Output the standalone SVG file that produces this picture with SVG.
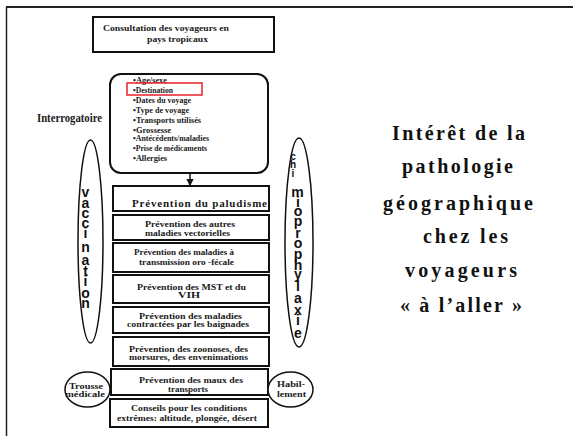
<svg xmlns="http://www.w3.org/2000/svg" width="573" height="436" viewBox="0 0 573 436">
<style>
.box{fill:#fff;stroke:#111;stroke-width:2}
.t{font-family:"Liberation Serif","Times New Roman",serif;font-weight:bold;fill:#1a1a1a}
.s{font-size:8.5px}
.l{font-size:7.6px}
.v{font-family:"Liberation Sans",Arial,sans-serif;font-weight:bold;font-size:14px;text-anchor:middle;fill:#111}
.vs{font-size:10px}
.ttl{font-family:"Liberation Serif","Times New Roman",serif;font-weight:bold;font-size:20px;fill:#111}
</style>
<defs>
<marker id="ah" viewBox="0 0 6 6" refX="5" refY="3" markerWidth="5" markerHeight="5" orient="auto">
<path d="M0,0 L6,3 L0,6 z" fill="#111"/>
</marker>
</defs>
<rect width="573" height="436" fill="#fff"/>
<g id="frame">
<line x1="6" y1="7" x2="573" y2="7" stroke="#222" stroke-width="2"/>
<line x1="6.5" y1="7" x2="6.5" y2="436" stroke="#222" stroke-width="1.5"/>
</g>
<g id="consultation">
<rect class="box" x="93" y="17" width="181" height="35"/>
<text class="t s" x="103" y="31" textLength="126" lengthAdjust="spacingAndGlyphs">Consultation des voyageurs en</text>
<text class="t s" x="147" y="42" textLength="61" lengthAdjust="spacingAndGlyphs">pays tropicaux</text>
</g>
<g id="interrogatoire-label">
<text class="t" font-size="11.5" x="37" y="122" textLength="65" lengthAdjust="spacingAndGlyphs">Interrogatoire</text>
</g>
<g id="interrogatoire">
<rect class="box" x="110" y="74" width="158" height="99" rx="11"/>
<text class="t l" x="133" y="83" textLength="34" lengthAdjust="spacingAndGlyphs">•Age/sexe</text>
<text class="t l" x="133" y="93" textLength="40" lengthAdjust="spacingAndGlyphs">•Destination</text>
<text class="t l" x="133" y="103" textLength="58" lengthAdjust="spacingAndGlyphs">•Dates du voyage</text>
<text class="t l" x="133" y="113" textLength="56" lengthAdjust="spacingAndGlyphs">•Type de voyage</text>
<text class="t l" x="133" y="123" textLength="68" lengthAdjust="spacingAndGlyphs">•Transports utilisés</text>
<text class="t l" x="133" y="133" textLength="38" lengthAdjust="spacingAndGlyphs">•Grossesse</text>
<text class="t l" x="133" y="141" textLength="76" lengthAdjust="spacingAndGlyphs">•Antécédents/maladies</text>
<text class="t l" x="133" y="151" textLength="74" lengthAdjust="spacingAndGlyphs">•Prise de médicaments</text>
<text class="t l" x="133" y="161" textLength="34" lengthAdjust="spacingAndGlyphs">•Allergies</text>
<rect x="127" y="83" width="75" height="12" fill="none" stroke="#e8202a" stroke-width="1.5"/>
</g>
<g id="connectors">
<line x1="190" y1="173" x2="190" y2="185" stroke="#111" stroke-width="1.5" marker-end="url(#ah)"/>
</g>
<g id="vaccination">
<ellipse cx="90.5" cy="241.5" rx="12.5" ry="101.5" fill="none" stroke="#111" stroke-width="1.5"/>
<text class="v" x="85.5" y="197">v</text>
<text class="v" x="85.5" y="208">a</text>
<text class="v" x="85.5" y="218">c</text>
<text class="v" x="85.5" y="228">c</text>
<text class="v" x="85.5" y="238">i</text>
<text class="v" x="85.5" y="252">n</text>
<text class="v" x="85.5" y="265">a</text>
<text class="v" x="85.5" y="276">t</text>
<text class="v" x="85.5" y="286">i</text>
<text class="v" x="85.5" y="298">o</text>
<text class="v" x="85.5" y="308">n</text>
</g>
<g id="chimioprophylaxie">
<ellipse cx="299" cy="242.5" rx="14" ry="104.5" fill="none" stroke="#111" stroke-width="1.5"/>
<text class="v vs" x="293" y="160">c</text>
<text class="v vs" x="293" y="168">h</text>
<text class="v vs" x="293" y="177">i</text>
<text class="v" x="297.5" y="197">m</text>
<text class="v" x="298" y="207">i</text>
<text class="v" x="298" y="216">o</text>
<text class="v" x="298" y="226">p</text>
<text class="v" x="298" y="238">r</text>
<text class="v" x="298" y="248">o</text>
<text class="v" x="298" y="259">p</text>
<text class="v" x="298" y="270">h</text>
<text class="v" x="298" y="279">y</text>
<text class="v" x="298" y="291">l</text>
<text class="v" x="298" y="303">a</text>
<text class="v" x="298" y="315">x</text>
<text class="v" x="298" y="325">i</text>
<text class="v" x="298" y="338">e</text>
</g>
<g id="paludisme">
<rect class="box" x="113" y="186" width="156" height="25"/>
<text class="t" font-size="11" x="132" y="207" textLength="135" lengthAdjust="spacing">Prévention du paludisme</text>
</g>
<g id="vectorielles">
<rect class="box" x="113" y="215" width="156" height="25"/>
<text class="t s" x="145" y="227" textLength="90" lengthAdjust="spacingAndGlyphs">Prévention des autres</text>
<text class="t s" x="145" y="236" textLength="85" lengthAdjust="spacingAndGlyphs">maladies vectorielles</text>
</g>
<g id="orofecale">
<rect class="box" x="113" y="243" width="156" height="29"/>
<text class="t s" x="134" y="255" textLength="100" lengthAdjust="spacingAndGlyphs">Prévention des maladies à</text>
<text class="t s" x="139" y="265" textLength="95" lengthAdjust="spacingAndGlyphs">transmission oro  -fécale</text>
</g>
<g id="mst">
<rect class="box" x="113" y="275" width="156" height="28"/>
<text class="t s" x="137" y="290" textLength="109" lengthAdjust="spacingAndGlyphs">Prévention des MST et du</text>
<text class="t s" x="178" y="298" textLength="22" lengthAdjust="spacingAndGlyphs">VIH</text>
</g>
<g id="baignades">
<rect class="box" x="113" y="307" width="156" height="26"/>
<text class="t s" x="139" y="319" textLength="103" lengthAdjust="spacingAndGlyphs">Prévention des maladies</text>
<text class="t s" x="127" y="327" textLength="122" lengthAdjust="spacingAndGlyphs">contractées par les baignades</text>
</g>
<g id="zoonoses">
<rect class="box" x="113" y="337" width="156" height="29"/>
<text class="t s" x="129" y="352" textLength="119" lengthAdjust="spacingAndGlyphs">Prévention des zoonoses, des</text>
<text class="t s" x="129" y="360" textLength="119" lengthAdjust="spacingAndGlyphs">morsures, des envenimations</text>
</g>
<g id="transports">
<rect class="box" x="111" y="369" width="157" height="26"/>
<text class="t s" x="139" y="383" textLength="104" lengthAdjust="spacingAndGlyphs">Prévention des maux des</text>
<text class="t s" x="168" y="392" textLength="40" lengthAdjust="spacingAndGlyphs">transports</text>
</g>
<g id="conseils">
<rect class="box" x="110" y="399" width="158" height="28"/>
<text class="t s" x="131" y="411" textLength="116" lengthAdjust="spacingAndGlyphs">Conseils pour les conditions</text>
<text class="t s" x="117" y="421" textLength="140" lengthAdjust="spacingAndGlyphs">extrêmes: altitude, plongée, désert</text>
</g>
<g id="trousse">
<ellipse cx="87.5" cy="389.5" rx="22.5" ry="17.5" fill="#fff" stroke="#111" stroke-width="1.5"/>
<text class="t s" x="69" y="389" textLength="34" lengthAdjust="spacingAndGlyphs">Trousse</text>
<text class="t s" x="65" y="397" textLength="40" lengthAdjust="spacingAndGlyphs">médicale</text>
</g>
<g id="habillement">
<ellipse cx="290.5" cy="389.5" rx="22.5" ry="17.5" fill="#fff" stroke="#111" stroke-width="1.5"/>
<text class="t s" x="277" y="387" textLength="28" lengthAdjust="spacingAndGlyphs">Habil-</text>
<text class="t s" x="277" y="397" textLength="29" lengthAdjust="spacingAndGlyphs">lement</text>
</g>
<g id="title">
<text class="ttl" x="392" y="140" textLength="133" lengthAdjust="spacing">Intérêt de la</text>
<text class="ttl" x="402" y="173" textLength="111" lengthAdjust="spacing">pathologie</text>
<text class="ttl" x="383" y="210" textLength="150" lengthAdjust="spacing">géographique</text>
<text class="ttl" x="423" y="243" textLength="85" lengthAdjust="spacing">chez les</text>
<text class="ttl" x="405" y="277" textLength="112" lengthAdjust="spacing">voyageurs</text>
<text class="ttl" x="400" y="312" textLength="122" lengthAdjust="spacing">« à l’aller »</text>
</g>
</svg>
